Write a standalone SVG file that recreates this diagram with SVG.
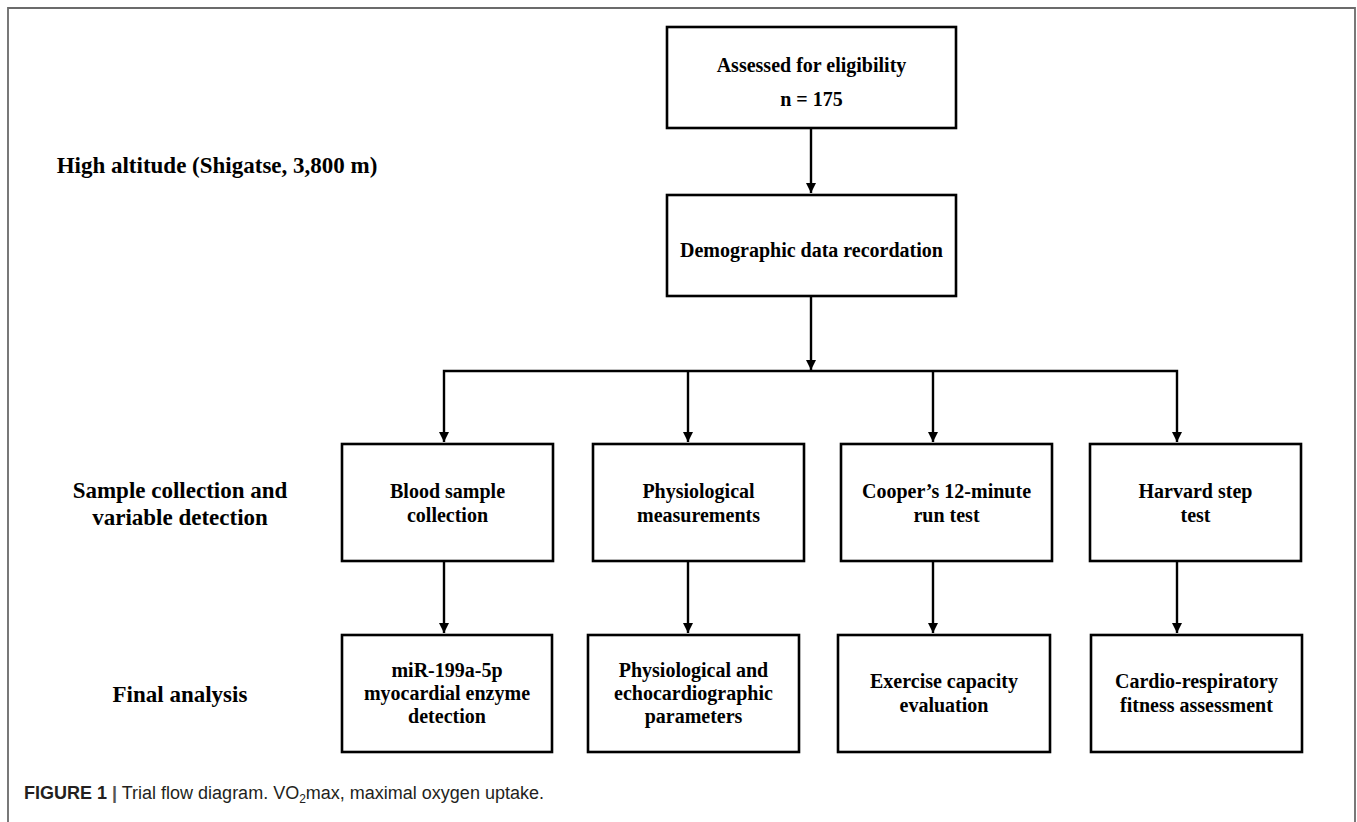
<svg xmlns="http://www.w3.org/2000/svg" width="1357" height="822" viewBox="0 0 1357 822">
  <defs>
    <marker id="arrow" markerWidth="10" markerHeight="10" refX="10" refY="5" orient="auto-start-reverse" markerUnits="userSpaceOnUse" viewBox="0 0 10 10">
      <path d="M0,0 L10,5 L0,10 Z" fill="#000"/>
    </marker>
    <style>
      .box { fill: #fff; stroke: #000; stroke-width: 2.6; }
      .t { font-family: "Liberation Serif", "Times New Roman", serif; font-weight: bold; font-size: 20px; fill: #000; text-anchor: middle; }
      .lbl { font-family: "Liberation Serif", "Times New Roman", serif; font-weight: bold; font-size: 23px; fill: #000; text-anchor: middle; }
      .conn { fill: none; stroke: #000; stroke-width: 2.4; }
      .frame { fill: none; stroke: #6b6b6b; stroke-width: 1.8; }
      .cap { font-family: "Liberation Sans", Arial, sans-serif; font-size: 18px; fill: #231f20; }
    </style>
  </defs>
  <rect x="0" y="0" width="1357" height="822" fill="#fff"/>
  <path class="frame" d="M8,822 L8,8 L1355,8 L1355,822"/>

  <g id="labels">
    <text class="lbl" x="217" y="173">High altitude (Shigatse, 3,800 m)</text>
    <text class="lbl" x="180" y="498">Sample collection and</text>
    <text class="lbl" x="180" y="525">variable detection</text>
    <text class="lbl" x="180" y="702">Final analysis</text>
  </g>

  <g id="connectors">
    <line class="conn" x1="811" y1="129" x2="811" y2="193" marker-end="url(#arrow)"/>
    <line class="conn" x1="811" y1="297" x2="811" y2="370" marker-end="url(#arrow)"/>
    <polyline class="conn" points="444,442 444,371 1177,371 1177,442" marker-start="url(#arrow)" marker-end="url(#arrow)"/>
    <line class="conn" x1="688" y1="371" x2="688" y2="442" marker-end="url(#arrow)"/>
    <line class="conn" x1="933" y1="371" x2="933" y2="442" marker-end="url(#arrow)"/>
    <line class="conn" x1="444" y1="562" x2="444" y2="633" marker-end="url(#arrow)"/>
    <line class="conn" x1="688" y1="562" x2="688" y2="633" marker-end="url(#arrow)"/>
    <line class="conn" x1="933" y1="562" x2="933" y2="633" marker-end="url(#arrow)"/>
    <line class="conn" x1="1177" y1="562" x2="1177" y2="633" marker-end="url(#arrow)"/>
  </g>

  <g id="assessed">
    <rect class="box" x="667" y="27" width="289" height="101"/>
    <text class="t" x="811.5" y="72">Assessed for eligibility</text>
    <text class="t" x="811.5" y="106">n = 175</text>
  </g>
  <g id="demographic">
    <rect class="box" x="667" y="195" width="289" height="101"/>
    <text class="t" x="811.5" y="257">Demographic data recordation</text>
  </g>

  <g id="blood">
    <rect class="box" x="342" y="444" width="211" height="117"/>
    <text class="t" x="447.5" y="498">Blood sample</text>
    <text class="t" x="447.5" y="522">collection</text>
  </g>
  <g id="physio">
    <rect class="box" x="593" y="444" width="211" height="117"/>
    <text class="t" x="698.5" y="498">Physiological</text>
    <text class="t" x="698.5" y="522">measurements</text>
  </g>
  <g id="cooper">
    <rect class="box" x="841" y="444" width="211" height="117"/>
    <text class="t" x="946.5" y="498">Cooper’s 12-minute</text>
    <text class="t" x="946.5" y="522">run test</text>
  </g>
  <g id="harvard">
    <rect class="box" x="1090" y="444" width="211" height="117"/>
    <text class="t" x="1195.5" y="498">Harvard step</text>
    <text class="t" x="1195.5" y="522">test</text>
  </g>

  <g id="mir">
    <rect class="box" x="342" y="635" width="210" height="117"/>
    <text class="t" x="447" y="677">miR-199a-5p</text>
    <text class="t" x="447" y="700">myocardial enzyme</text>
    <text class="t" x="447" y="723">detection</text>
  </g>
  <g id="echo">
    <rect class="box" x="588" y="635" width="211" height="117"/>
    <text class="t" x="693.5" y="677">Physiological and</text>
    <text class="t" x="693.5" y="700">echocardiographic</text>
    <text class="t" x="693.5" y="723">parameters</text>
  </g>
  <g id="exercise">
    <rect class="box" x="838" y="635" width="212" height="117"/>
    <text class="t" x="944" y="688">Exercise capacity</text>
    <text class="t" x="944" y="712">evaluation</text>
  </g>
  <g id="cardio">
    <rect class="box" x="1091" y="635" width="211" height="117"/>
    <text class="t" x="1196.5" y="688">Cardio-respiratory</text>
    <text class="t" x="1196.5" y="712">fitness assessment</text>
  </g>

  <text class="cap" x="24" y="799"><tspan font-weight="bold">FIGURE 1</tspan> <tspan font-weight="bold" fill="#555">|</tspan> Trial flow diagram. VO<tspan font-size="12" dy="4">2</tspan><tspan dy="-4">max, maximal oxygen uptake.</tspan></text>
</svg>
